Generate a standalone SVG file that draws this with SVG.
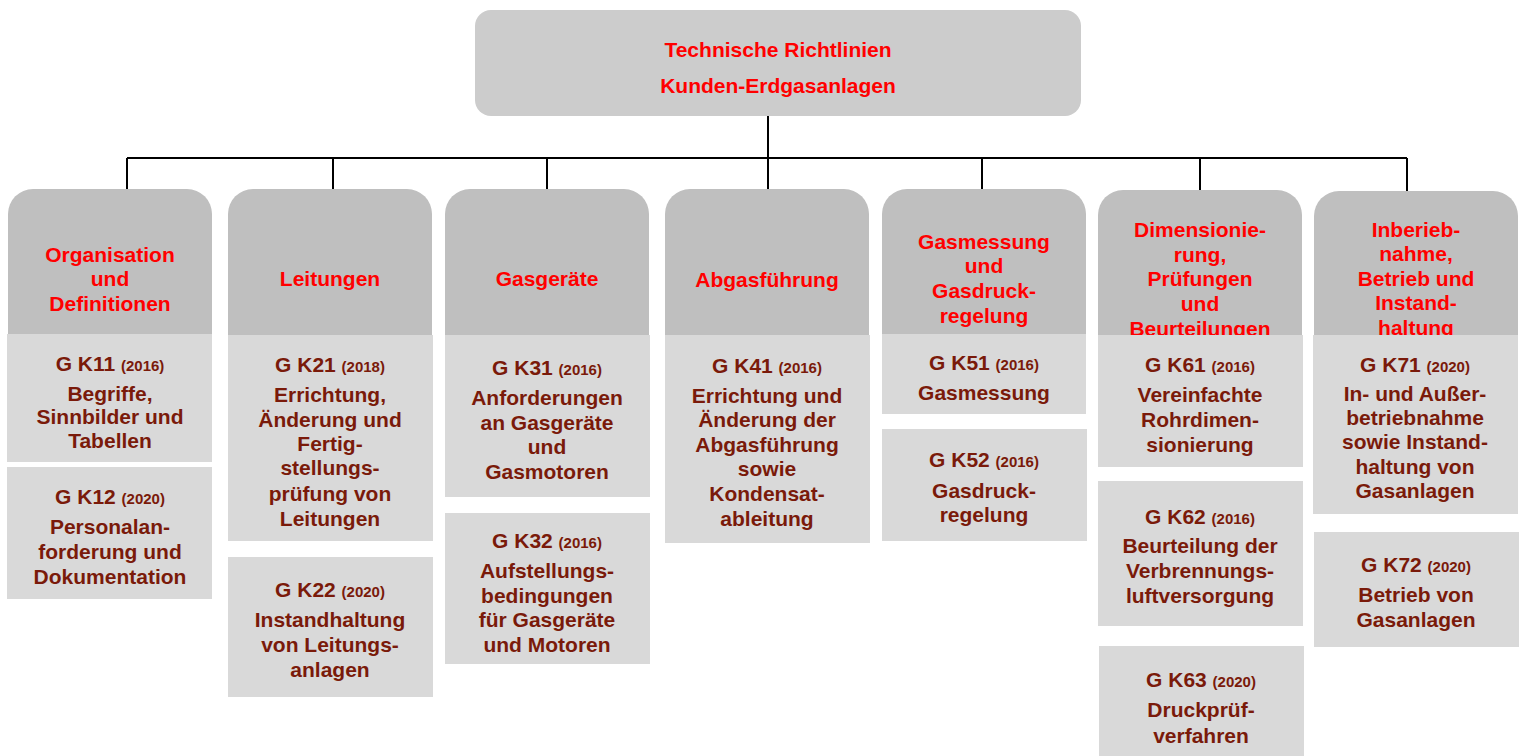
<svg xmlns="http://www.w3.org/2000/svg" width="1519" height="756" viewBox="0 0 1519 756">
<style>
.top{fill:#cccccc}
.hdr{fill:#bfbfbf}
.det{fill:#d9d9d9}
text{font-family:"Liberation Sans",Arial,sans-serif;font-weight:bold;text-anchor:middle}
.ht{fill:#ff0000;font-size:21px}
.dt{fill:#7a1a0a;font-size:21px}
.yr{font-size:15px}
.con{stroke:#000;stroke-width:2;fill:none}
</style>
<defs>
<clipPath id="c6"><rect x="1098" y="190" width="205" height="145"/></clipPath>
<clipPath id="c7"><rect x="1313" y="190" width="206" height="145"/></clipPath>
</defs>
<g id="connectors">
<path class="con" d="M768 116V158M127 158H1407M127 158V190M333 158V190M547 158V190M768 158V190M982 158V190M1200 158V191M1407 158V192"/>
</g>
<g id="root">
<rect class="top" x="475" y="10" width="606" height="106" rx="16"/>
<text class="ht" x="778" y="57">Technische Richtlinien</text>
<text class="ht" x="778" y="93">Kunden-Erdgasanlagen</text>
</g>

<g id="col1">
<path class="hdr" d="M8 335V214A25 25 0 0 1 33 189H187A25 25 0 0 1 212 214V335Z"/>
<text class="ht" x="110" y="262">Organisation</text>
<text class="ht" x="110" y="286">und</text>
<text class="ht" x="110" y="311">Definitionen</text>
</g>
<g id="gk11">
<rect class="det" x="7" y="334" width="205" height="128"/>
<text class="dt" x="110" y="371">G K11 <tspan class="yr">(2016)</tspan></text>
<text class="dt" x="110" y="401">Begriffe,</text>
<text class="dt" x="110" y="424">Sinnbilder und</text>
<text class="dt" x="110" y="448">Tabellen</text>
</g>
<g id="gk12">
<rect class="det" x="7" y="467" width="205" height="132"/>
<text class="dt" x="110" y="504">G K12 <tspan class="yr">(2020)</tspan></text>
<text class="dt" x="110" y="534">Personalan-</text>
<text class="dt" x="110" y="559">forderung und</text>
<text class="dt" x="110" y="584">Dokumentation</text>
</g>

<g id="col2">
<path class="hdr" d="M228 335V214A25 25 0 0 1 253 189H407A25 25 0 0 1 432 214V335Z"/>
<text class="ht" x="330" y="286">Leitungen</text>
</g>
<g id="gk21">
<rect class="det" x="228" y="335" width="205" height="206"/>
<text class="dt" x="330" y="372">G K21 <tspan class="yr">(2018)</tspan></text>
<text class="dt" x="330" y="402">Errichtung,</text>
<text class="dt" x="330" y="427">Änderung und</text>
<text class="dt" x="330" y="451">Fertig-</text>
<text class="dt" x="330" y="475">stellungs-</text>
<text class="dt" x="330" y="501">prüfung von</text>
<text class="dt" x="330" y="526">Leitungen</text>
</g>
<g id="gk22">
<rect class="det" x="228" y="557" width="205" height="140"/>
<text class="dt" x="330" y="597">G K22 <tspan class="yr">(2020)</tspan></text>
<text class="dt" x="330" y="627">Instandhaltung</text>
<text class="dt" x="330" y="652">von Leitungs-</text>
<text class="dt" x="330" y="677">anlagen</text>
</g>

<g id="col3">
<path class="hdr" d="M445 335V214A25 25 0 0 1 470 189H624A25 25 0 0 1 649 214V335Z"/>
<text class="ht" x="547" y="286">Gasgeräte</text>
</g>
<g id="gk31">
<rect class="det" x="445" y="335" width="205" height="162"/>
<text class="dt" x="547" y="375">G K31 <tspan class="yr">(2016)</tspan></text>
<text class="dt" x="547" y="405">Anforderungen</text>
<text class="dt" x="547" y="430">an Gasgeräte</text>
<text class="dt" x="547" y="454">und</text>
<text class="dt" x="547" y="479">Gasmotoren</text>
</g>
<g id="gk32">
<rect class="det" x="445" y="513" width="205" height="151"/>
<text class="dt" x="547" y="548">G K32 <tspan class="yr">(2016)</tspan></text>
<text class="dt" x="547" y="578">Aufstellungs-</text>
<text class="dt" x="547" y="603">bedingungen</text>
<text class="dt" x="547" y="627">für Gasgeräte</text>
<text class="dt" x="547" y="652">und Motoren</text>
</g>

<g id="col4">
<path class="hdr" d="M665 335V214A25 25 0 0 1 690 189H844A25 25 0 0 1 869 214V335Z"/>
<text class="ht" x="767" y="287">Abgasführung</text>
</g>
<g id="gk41">
<rect class="det" x="665" y="335" width="205" height="208"/>
<text class="dt" x="767" y="373">G K41 <tspan class="yr">(2016)</tspan></text>
<text class="dt" x="767" y="403">Errichtung und</text>
<text class="dt" x="767" y="427">Änderung der</text>
<text class="dt" x="767" y="452">Abgasführung</text>
<text class="dt" x="767" y="476">sowie</text>
<text class="dt" x="767" y="501">Kondensat-</text>
<text class="dt" x="767" y="526">ableitung</text>
</g>

<g id="col5">
<path class="hdr" d="M882 334V214A25 25 0 0 1 907 189H1061A25 25 0 0 1 1086 214V334Z"/>
<text class="ht" x="984" y="249">Gasmessung</text>
<text class="ht" x="984" y="273">und</text>
<text class="ht" x="984" y="298">Gasdruck-</text>
<text class="ht" x="984" y="323">regelung</text>
</g>
<g id="gk51">
<rect class="det" x="882" y="334" width="204" height="80"/>
<text class="dt" x="984" y="370">G K51 <tspan class="yr">(2016)</tspan></text>
<text class="dt" x="984" y="400">Gasmessung</text>
</g>
<g id="gk52">
<rect class="det" x="882" y="429" width="205" height="112"/>
<text class="dt" x="984" y="467">G K52 <tspan class="yr">(2016)</tspan></text>
<text class="dt" x="984" y="498">Gasdruck-</text>
<text class="dt" x="984" y="522">regelung</text>
</g>

<g id="col6">
<path class="hdr" d="M1098 335V215A25 25 0 0 1 1123 190H1277A25 25 0 0 1 1302 215V335Z"/>
<g clip-path="url(#c6)">
<text class="ht" x="1200" y="237">Dimensionie-</text>
<text class="ht" x="1200" y="262">rung,</text>
<text class="ht" x="1200" y="286">Prüfungen</text>
<text class="ht" x="1200" y="311">und</text>
<text class="ht" x="1200" y="336">Beurteilungen</text>
</g>
</g>
<g id="gk61">
<rect class="det" x="1098" y="335" width="205" height="132"/>
<text class="dt" x="1200" y="372">G K61 <tspan class="yr">(2016)</tspan></text>
<text class="dt" x="1200" y="402">Vereinfachte</text>
<text class="dt" x="1200" y="427">Rohrdimen-</text>
<text class="dt" x="1200" y="452">sionierung</text>
</g>
<g id="gk62">
<rect class="det" x="1098" y="481" width="205" height="145"/>
<text class="dt" x="1200" y="524">G K62 <tspan class="yr">(2016)</tspan></text>
<text class="dt" x="1200" y="553">Beurteilung der</text>
<text class="dt" x="1200" y="578">Verbrennungs-</text>
<text class="dt" x="1200" y="603">luftversorgung</text>
</g>
<g id="gk63">
<rect class="det" x="1099" y="646" width="205" height="110"/>
<text class="dt" x="1201" y="687">G K63 <tspan class="yr">(2020)</tspan></text>
<text class="dt" x="1201" y="717">Druckprüf-</text>
<text class="dt" x="1201" y="743">verfahren</text>
</g>

<g id="col7">
<path class="hdr" d="M1314 335V216A25 25 0 0 1 1339 191H1493A25 25 0 0 1 1518 216V335Z"/>
<g clip-path="url(#c7)">
<text class="ht" x="1416" y="237">Inberieb-</text>
<text class="ht" x="1416" y="261">nahme,</text>
<text class="ht" x="1416" y="286">Betrieb und</text>
<text class="ht" x="1416" y="310">Instand-</text>
<text class="ht" x="1416" y="335">haltung</text>
</g>
</g>
<g id="gk71">
<rect class="det" x="1313" y="335" width="205" height="179"/>
<text class="dt" x="1415" y="372">G K71 <tspan class="yr">(2020)</tspan></text>
<text class="dt" x="1415" y="401">In- und Außer-</text>
<text class="dt" x="1415" y="425">betriebnahme</text>
<text class="dt" x="1415" y="449">sowie Instand-</text>
<text class="dt" x="1415" y="474">haltung von</text>
<text class="dt" x="1415" y="498">Gasanlagen</text>
</g>
<g id="gk72">
<rect class="det" x="1314" y="532" width="205" height="115"/>
<text class="dt" x="1416" y="572">G K72 <tspan class="yr">(2020)</tspan></text>
<text class="dt" x="1416" y="602">Betrieb von</text>
<text class="dt" x="1416" y="627">Gasanlagen</text>
</g>
</svg>
